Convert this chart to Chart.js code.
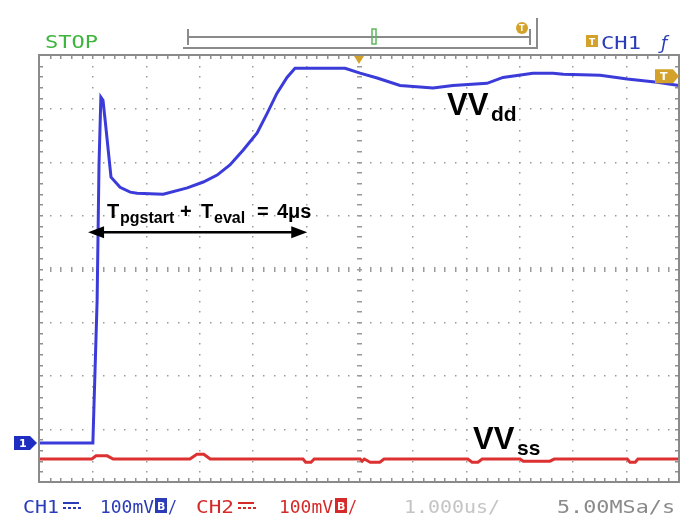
<!DOCTYPE html>
<html>
<head>
<meta charset="utf-8">
<script src="https://cdn.jsdelivr.net/npm/chart.js@4/dist/chart.umd.min.js"></script>
<style>
html, body { margin: 0; padding: 0; background: #fff; }
#wrap { width: 689px; height: 521px; position: relative; }
</style>
</head>
<body>
<div id="wrap"><canvas id="scope"></canvas></div>
<script>
// time in µs (1 µs/div), level in divisions (100 mV/div)
const ch1Time = [0, 1.01, 1.09, 1.125, 1.16, 1.2, 1.24, 1.35, 1.52, 1.71, 1.84, 2.33, 2.78, 3.08, 3.34, 3.58, 3.83, 4.09, 4.28, 4.46, 4.65, 4.8, 5.74, 6.02, 6.34, 6.77, 7.39, 7.76, 8.4, 8.7, 9.26, 9.64, 9.83, 10.52, 11.03, 11.59, 12];
const ch1Level = [0.73, 0.73, 3.41, 5.94, 7.21, 7.15, 6.78, 5.71, 5.52, 5.43, 5.41, 5.39, 5.51, 5.62, 5.75, 5.94, 6.22, 6.54, 6.91, 7.28, 7.58, 7.75, 7.75, 7.66, 7.57, 7.43, 7.38, 7.43, 7.47, 7.58, 7.66, 7.66, 7.64, 7.62, 7.55, 7.49, 7.43];

const ch2Time = [0, 0.99, 1.07, 1.28, 1.39, 2.83, 2.96, 3.09, 3.21, 4.95, 5.0, 5.1, 5.16, 6.02, 6.06, 6.1, 6.21, 6.39, 6.47, 8.04, 8.12, 8.23, 8.31, 9.02, 9.08, 9.58, 9.66, 11.03, 11.08, 11.18, 11.23, 12];
const ch2Level = [0.43, 0.43, 0.49, 0.49, 0.43, 0.43, 0.52, 0.52, 0.43, 0.43, 0.37, 0.37, 0.43, 0.43, 0.39, 0.43, 0.37, 0.37, 0.43, 0.43, 0.37, 0.37, 0.43, 0.43, 0.39, 0.39, 0.43, 0.43, 0.37, 0.37, 0.43, 0.43];

const timeDivs = 12;
const levelDivs = 8;

// the "Tpgstart + Teval = 4µs" span
const spanFrom = 0.92;
const spanTo = 5.03;
const spanLevel = 4.68;

const statusFont = '18px "DejaVu Sans Mono"';

function toPoints(xs, ys) {
    return xs.map((x, i) => ({ x: x, y: ys[i] }));
}

function fitText(ctx, text, x, base, w) {
    ctx.save();
    ctx.font = statusFont;
    const m = ctx.measureText(text).width;
    ctx.translate(x, base);
    ctx.scale(w / m, 1);
    ctx.fillText(text, 0, 0);
    ctx.restore();
}

function dcIcon(ctx, x, y, w, color) {
    ctx.fillStyle = color;
    ctx.fillRect(x, y, w, 2);
    for (let i = 0; i < w; i += 5) ctx.fillRect(x + i, y + 5, 3, 2);
}

function bwBox(ctx, x, y, color) {
    ctx.save();
    ctx.fillStyle = color;
    ctx.fillRect(x, y, 12, 15);
    ctx.fillStyle = '#fff';
    ctx.font = 'bold 11px "DejaVu Sans"';
    ctx.fillText('B', x + 2, y + 12);
    ctx.restore();
}

const scopeDecor = {
    id: 'scopeDecor',
    beforeDraw(chart) {
        const { ctx, chartArea: a, scales: { x, y } } = chart;
        ctx.save();
        ctx.fillStyle = '#fff';
        ctx.fillRect(0, 0, chart.width, chart.height);

        // dotted graticule
        ctx.fillStyle = '#9a9a9a';
        for (let i = 1; i < timeDivs; i++) {
            const px = Math.round(x.getPixelForValue(i));
            for (let k = 1; k < levelDivs * 5; k++) {
                const py = Math.round(y.getPixelForValue(k / 5));
                if (i === timeDivs / 2) ctx.fillRect(px - 2, py, 5, 1.5);
                else ctx.fillRect(px, py, 1.5, 1.5);
            }
        }
        for (let j = 1; j < levelDivs; j++) {
            const py = Math.round(y.getPixelForValue(j));
            for (let k = 1; k < timeDivs * 5; k++) {
                const px = Math.round(x.getPixelForValue(k / 5));
                if (j === levelDivs / 2) ctx.fillRect(px, py - 2, 1.5, 5);
                else ctx.fillRect(px, py, 1.5, 1.5);
            }
        }
        // edge ticks
        ctx.fillStyle = '#909090';
        for (let k = 1; k < timeDivs * 5; k++) {
            const px = Math.round(x.getPixelForValue(k / 5));
            ctx.fillRect(px, a.top, 1.5, 4);
            ctx.fillRect(px, a.bottom - 4, 1.5, 4);
        }
        for (let k = 1; k < levelDivs * 5; k++) {
            const py = Math.round(y.getPixelForValue(k / 5));
            ctx.fillRect(a.left, py, 4, 1.5);
            ctx.fillRect(a.right - 4, py, 4, 1.5);
        }
        ctx.restore();
    },
    afterDatasetsDraw(chart) {
        const { ctx, chartArea: a, scales: { x, y } } = chart;
        ctx.save();

        // frame
        ctx.strokeStyle = '#8a8a8a';
        ctx.lineWidth = 2;
        ctx.strokeRect(a.left, a.top, a.right - a.left, a.bottom - a.top);

        // trigger position marker (top)
        const tx = x.getPixelForValue(timeDivs / 2);
        ctx.fillStyle = '#d4a22a';
        ctx.beginPath();
        ctx.moveTo(tx - 5, a.top + 1);
        ctx.lineTo(tx + 5, a.top + 1);
        ctx.lineTo(tx, a.top + 9);
        ctx.closePath();
        ctx.fill();

        // trigger level marker (right)
        const ty = y.getPixelForValue(7.6);
        ctx.beginPath();
        ctx.moveTo(a.right - 24, ty - 7);
        ctx.lineTo(a.right - 6, ty - 7);
        ctx.lineTo(a.right, ty);
        ctx.lineTo(a.right - 6, ty + 7);
        ctx.lineTo(a.right - 24, ty + 7);
        ctx.closePath();
        ctx.fill();
        ctx.fillStyle = '#fff';
        ctx.font = 'bold 11px "DejaVu Sans"';
        ctx.fillText('T', a.right - 19, ty + 4);

        // CH1 ground marker (left)
        const gy = y.getPixelForValue(ch1Level[0]);
        ctx.fillStyle = '#1e2ec0';
        ctx.beginPath();
        ctx.moveTo(14, gy - 7);
        ctx.lineTo(30, gy - 7);
        ctx.lineTo(37, gy);
        ctx.lineTo(30, gy + 7);
        ctx.lineTo(14, gy + 7);
        ctx.closePath();
        ctx.fill();
        ctx.fillStyle = '#fff';
        ctx.fillText('1', 19, gy + 4);

        // span arrow
        const x0 = x.getPixelForValue(spanFrom);
        const x1 = x.getPixelForValue(spanTo);
        const ay = y.getPixelForValue(spanLevel);
        ctx.strokeStyle = '#000';
        ctx.fillStyle = '#000';
        ctx.lineWidth = 2.5;
        ctx.beginPath();
        ctx.moveTo(x0 + 10, ay);
        ctx.lineTo(x1 - 10, ay);
        ctx.stroke();
        ctx.beginPath();
        ctx.moveTo(x0, ay);
        ctx.lineTo(x0 + 16, ay - 6);
        ctx.lineTo(x0 + 16, ay + 6);
        ctx.closePath();
        ctx.fill();
        ctx.beginPath();
        ctx.moveTo(x1, ay);
        ctx.lineTo(x1 - 16, ay - 6);
        ctx.lineTo(x1 - 16, ay + 6);
        ctx.closePath();
        ctx.fill();

        const big = 'bold 20px "Liberation Sans"';
        const sub = 'bold 16px "Liberation Sans"';
        ctx.font = big; ctx.fillText('T', 107, 218);
        ctx.font = sub; ctx.fillText('pgstart', 120, 223);
        ctx.font = big; ctx.fillText('+', 180, 218);
        ctx.fillText('T', 201, 218);
        ctx.font = sub; ctx.fillText('eval', 214, 223);
        ctx.font = big; ctx.fillText('=', 257, 218);
        ctx.fillText('4μs', 277, 218);

        // channel names
        ctx.font = 'bold 31px "Liberation Sans"';
        ctx.fillText('VV', 447, 115);
        ctx.font = 'bold 21px "Liberation Sans"';
        ctx.fillText('dd', 491, 121);
        ctx.font = 'bold 31px "Liberation Sans"';
        ctx.fillText('VV', 473, 449);
        ctx.font = 'bold 21px "Liberation Sans"';
        ctx.fillText('ss', 517, 455);

        ctx.restore();
    },
    afterDraw(chart) {
        const ctx = chart.ctx;
        ctx.save();

        // status line
        ctx.fillStyle = '#3db43d';
        fitText(ctx, 'STOP', 45, 48, 53);
        ctx.fillStyle = '#2a3cb8';
        fitText(ctx, 'CH1', 601, 49, 40);
        ctx.font = 'italic 18px "DejaVu Sans"';
        ctx.fillText('ƒ', 661, 49);

        // trigger icon next to CH1
        ctx.fillStyle = '#d4a22a';
        ctx.fillRect(586, 35, 12, 12);
        ctx.fillStyle = '#fff';
        ctx.font = 'bold 9px "DejaVu Sans"';
        ctx.fillText('T', 589, 45);

        // horizontal position bar
        ctx.strokeStyle = '#8a8a8a';
        ctx.lineWidth = 2;
        ctx.beginPath();
        ctx.moveTo(188, 37); ctx.lineTo(530, 37);
        ctx.moveTo(188, 29); ctx.lineTo(188, 45);
        ctx.moveTo(530, 29); ctx.lineTo(530, 45);
        ctx.moveTo(183, 48); ctx.lineTo(537, 48); ctx.lineTo(537, 18);
        ctx.stroke();
        ctx.strokeStyle = '#5cb85c';
        ctx.lineWidth = 1.5;
        ctx.strokeRect(372, 29, 4, 15);
        ctx.fillStyle = '#d4a22a';
        ctx.beginPath();
        ctx.arc(522, 28, 6, 0, Math.PI * 2);
        ctx.fill();
        ctx.fillStyle = '#fff';
        ctx.font = 'bold 8px "DejaVu Sans"';
        ctx.fillText('T', 519, 31);

        // bottom status line
        const blue = '#2a3cb8';
        const red = '#d42a2a';
        ctx.fillStyle = blue;
        fitText(ctx, 'CH1', 23, 513, 36);
        dcIcon(ctx, 63, 502, 16, blue);
        fitText(ctx, '100mV', 100, 513, 54);
        bwBox(ctx, 155, 498, blue);
        fitText(ctx, '/', 168, 513, 9);
        ctx.fillStyle = red;
        fitText(ctx, 'CH2', 196, 513, 38);
        dcIcon(ctx, 238, 502, 16, red);
        fitText(ctx, '100mV', 279, 513, 54);
        bwBox(ctx, 335, 498, red);
        fitText(ctx, '/', 348, 513, 9);
        ctx.fillStyle = '#c4c4c4';
        fitText(ctx, '1.000us/', 404, 513, 96);
        ctx.fillStyle = '#8a8a8a';
        fitText(ctx, '5.00MSa/s', 557, 513, 118);
        ctx.restore();
    }
};

new Chart(document.getElementById('scope'), {
    type: 'line',
    data: {
        datasets: [
            {
                label: 'CH1',
                data: toPoints(ch1Time, ch1Level),
                borderColor: '#3b3bd9',
                borderWidth: 3,
                pointRadius: 0,
                tension: 0
            },
            {
                label: 'CH2',
                data: toPoints(ch2Time, ch2Level),
                borderColor: '#dd3030',
                borderWidth: 3,
                pointRadius: 0,
                tension: 0
            }
        ]
    },
    options: {
        responsive: true,
        maintainAspectRatio: false,
        animation: false,
        layout: { padding: { left: 39, top: 55, right: 10, bottom: 39 } },
        scales: {
            x: { type: 'linear', min: 0, max: timeDivs, display: false },
            y: { min: 0, max: levelDivs, display: false }
        },
        plugins: {
            legend: { display: false },
            tooltip: { enabled: false }
        }
    },
    plugins: [scopeDecor]
});
</script>
</body>
</html>
